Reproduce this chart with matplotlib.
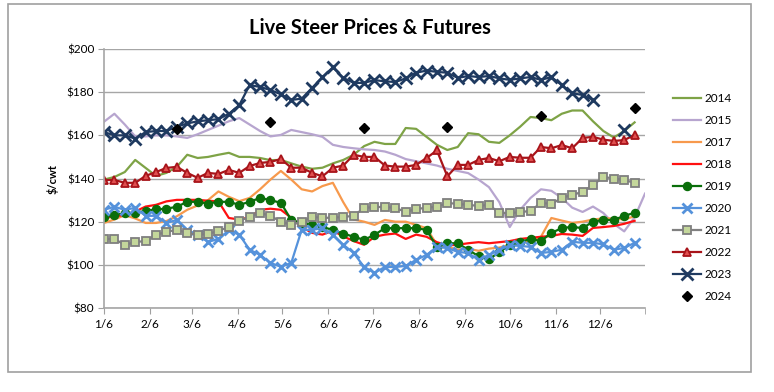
import numpy as np
import matplotlib
matplotlib.use("Agg")
import matplotlib.pyplot as plt
from matplotlib.patches import Rectangle

plt.rcParams['font.family'] = ['Lato', 'DejaVu Sans']

nan = np.nan

# weekly prices, week 0 = Jan 6
y2014 = [139.5, 140.7, 143, 148.6, 144.9, 141.2, 142.6, 145.4, 151, 149.5,
         150, 151, 151.9, 150, 150, 149.5, 148.5, 148.6, 147, 145.5,
         144.5, 145, 147, 148.6, 151, 155, 157, 156, 156, 163.4,
         163, 159.3, 155.6, 153.2, 154.6, 161, 160.5, 157, 156.5, 160,
         164, 168.5, 168, 167, 170, 171.5, 171.5, 166.5, 162, 159, 162, 166, nan]
y2015 = [166.3, 170, 165, 159.5, 159.5, 160, 160, 159.5, 158.8, 160.5,
         162.5, 164.5, 166.5, 168, 165, 162, 159.5, 160.2, 162.5, 161.5,
         160.5, 159.3, 155.6, 154.6, 154, 153.5, 153.2, 152.5, 151, 149,
         148, 147, 146, 144.5, 143.5, 142.5, 139.5, 136, 129, 117.5,
         125.5, 131, 135, 134.3, 131, 126.5, 124.5, 127, 124, 119, 115.5, 122, 133]
y2017 = [119.4, 121, 123, 121.5, 119.4, 119.4, 120.3, 122.5, 125.5, 127.5,
         130, 134, 131.5, 129.5, 131, 135, 139.5, 143.5, 139.5, 135,
         134, 136.5, 138, 129, 121, 120, 118.5, 120.8, 120, 120,
         118.5, 117, 109.3, 108.4, 107, 107.5, 106.5, 107.5, 108, 109.3,
         110, 111, 113, 121.7, 120.5, 119.4, 120, 121, 121.5, 121.5, 121, 122.5, nan]
y2018 = [121.7, 122.4, 123.2, 124.7, 127, 127.8, 129.4, 130.1, 130.1, 130.1,
         129.7, 129.4, 121.7, 121, 122, 125.5, 126, 125.5, 121.8, 117.5,
         114.8, 114, 115.8, 113.2, 111, 109.3, 113, 114, 114.5, 112,
         114, 113, 110.5, 109, 109.3, 110, 110.5, 110, 110.5, 111,
         112, 112.5, 113, 113.4, 114.3, 114, 113.4, 117.1, 117.5, 118, 119, 120.4, nan]
y2019 = [122.2, 123, 124, 124, 125, 125.7, 126, 126.9, 129.2, 129.2,
         128.4, 129.2, 129.2, 127.8, 129.2, 131, 130, 128.7, 120.8, 119.4,
         118.5, 117.5, 116.2, 114.5, 113, 111.6, 113.9, 117, 117, 117,
         117, 116.2, 108.2, 110, 110, 107, 104, 102.5, 106, 109,
         110.6, 112, 111, 114.8, 117, 117.6, 117, 120, 120.8, 120.8, 122.7, 124.1, nan]
y2020 = [125.5, 126.9, 125.5, 126.4, 122.7, 122.7, 119.4, 120.8, 116.2, 113.9,
         110.6, 112, 116, 114, 107, 104.6, 100.9, 99.1, 100.9, 116.2,
         116.2, 117, 113.9, 109.3, 105.5, 99, 96.3, 99, 99, 99.5,
         102.3, 104.6, 108.2, 107.8, 106, 105.5, 102.3, 104.6, 107, 109,
         108.8, 108.3, 105.5, 106, 107, 110.7, 110.2, 110.2, 109.5, 107, 107.8, 110.2, nan]
y2021 = [112, 112, 109.2, 110.6, 111, 113.9, 115.3, 116.2, 114.8, 113.9,
         114.3, 115.7, 117.6, 120.4, 122.2, 124.1, 122.7, 120, 118.5, 120,
         122.2, 121.8, 121.8, 122.2, 122.7, 126.4, 126.8, 126.8, 126.4, 124.5,
         125.9, 126.4, 126.9, 128.7, 128.2, 127.8, 127.3, 127.8, 124, 124,
         124.4, 125, 128.7, 128.2, 131, 132.4, 133.8, 137, 140.7, 140, 139.3, 138, nan]
y2022 = [139.3, 139.3, 138, 138, 141.2, 143, 144.9, 145.4, 142.6, 140.3,
         142.6, 142.1, 144, 142.6, 145.8, 147.2, 147.7, 149, 145, 145,
         142.6, 141, 145, 146, 151, 150, 150, 146, 145.5, 145.5,
         146.3, 149.5, 153, 141, 146.3, 146.3, 148.6, 149.5, 148, 150,
         149.6, 149.6, 154.6, 154, 155.5, 154, 158.8, 159.3, 158, 157.4, 157.8, 160.2, nan]
y2023 = [161.5, 160, 160, 158.5, 161.5, 162, 162, 164, 165.5, 166.5,
         167, 167.5, 170, 174, 183.3, 182.4, 181, 179, 176.4, 177,
         182, 187, 191.5, 186.6, 184.3, 184.3, 185.6, 185, 184.7, 186.4,
         189, 190, 189.4, 189, 186.6, 187.5, 187, 187.5, 186.4, 185.7,
         186.4, 187, 185.7, 187, 183.3, 179.5, 178.7, 176.4, nan, nan, 162.5, nan, nan]
# futures
weeks2024 = [7, 16, 25, 33, 42, 51]
y2024 = [163, 166, 163.5, 164, 169, 172.7]

month_labels = ['1/6', '2/6', '3/6', '4/6', '5/6', '6/6', '7/6', '8/6',
                '9/6', '10/6', '11/6', '12/6']
month_days = [0, 31, 59, 90, 120, 151, 181, 212, 243, 273, 304, 334]

weeks = np.arange(53)

fig = plt.figure(figsize=(7.74, 3.92), dpi=100)
ax = fig.add_axes([104 / 774, 1 - 308 / 392, 541 / 774, 259 / 392])

lw = 1.6
ax.plot(weeks, y2014, color='#7EA346', lw=lw, label='2014')
ax.plot(weeks, y2015, color='#B7A5CF', lw=lw, label='2015')
ax.plot(weeks, y2017, color='#F7994C', lw=lw, label='2017')
ax.plot(weeks, y2018, color='#FF1010', lw=lw, label='2018')
ax.plot(weeks, y2019, color='#0A6E0A', lw=lw, marker='o', ms=5.8,
        label='2019')
ax.plot(weeks, y2020, color='#5592DB', lw=lw, marker='x', ms=7, mew=2,
        label='2020')
ax.plot(weeks, y2021, color='#808080', lw=lw, marker='s', ms=5.8,
        mfc='#C4D79B', mec='#7F7F7F', mew=1.3, label='2021')
ax.plot(weeks, y2022, color='#A8141A', lw=lw, marker='^', ms=6.3,
        mfc='#E05050', mec='#A8141A', mew=1.3, label='2022')
ax.plot(weeks, y2023, color='#1F3A60', lw=lw, marker='x', ms=8.5, mew=2,
        label='2023')
ax.plot(weeks2024, y2024, ls='none', marker='D', ms=5, color='black',
        label='2024')

ax.set_xlim(0, 52)
ax.set_ylim(80, 200)
ax.set_yticks(np.arange(80, 201, 20))
ax.set_yticklabels(['$%d' % v for v in range(80, 201, 20)], fontsize=8.5)
ax.set_xticks([d / 7 for d in month_days])
ax.set_xticklabels(month_labels, fontsize=8.5)
ax.set_xticks([52], minor=True)
ax.tick_params(axis='both', which='both', direction='out', length=4,
               color='#A0A0A0', pad=3)
ax.tick_params(axis='x', pad=4)
ax.grid(axis='y', color='#A6A6A6', lw=1)
ax.set_axisbelow(True)
for s in ['top', 'right']:
    ax.spines[s].set_visible(False)
for s in ['left', 'bottom']:
    ax.spines[s].set_color('#A6A6A6')
    ax.spines[s].set_linewidth(1.2)
ax.set_ylabel('$/cwt', fontsize=8, fontweight='bold', labelpad=6)

fig.text(0.478, 0.928, 'Live Steer Prices & Futures', ha='center',
         va='center', fontsize=14.5, fontweight='bold')

fig.legend(loc='upper left', bbox_to_anchor=(673 / 774, 1 - 93 / 392),
           frameon=False, fontsize=8.5, handlelength=2.4, labelspacing=0.93,
           handletextpad=0.3, borderaxespad=0, borderpad=0)

fig.patches.append(Rectangle((8 / 774, 1 - 372 / 392), 743 / 774,
                             368 / 392, transform=fig.transFigure,
                             fill=False, ec='#A0A0A0', lw=1.2))

fig.savefig('out.png', dpi=100)
